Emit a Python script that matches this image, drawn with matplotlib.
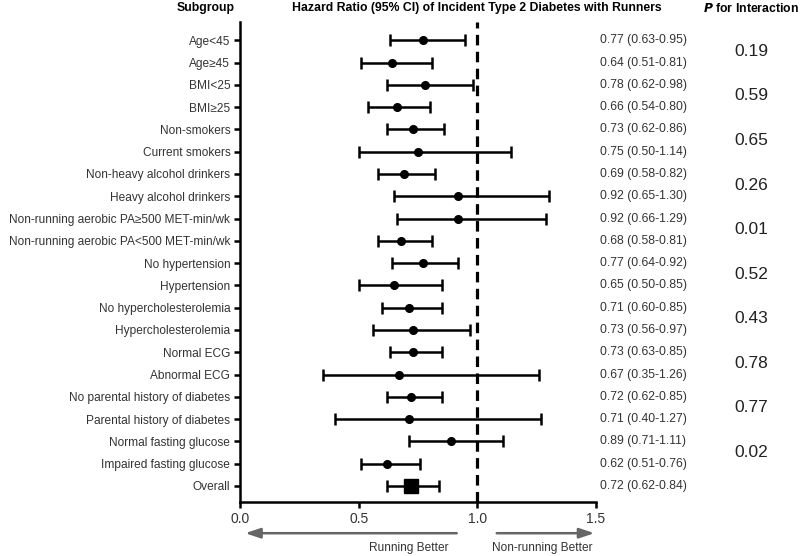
import numpy as np
import matplotlib.pyplot as plt

plt.rcParams['font.family'] = ['Liberation Sans', 'DejaVu Sans']

subgroups = ['Age<45', 'Age≥45', 'BMI<25', 'BMI≥25', 'Non-smokers', 'Current smokers',
             'Non-heavy alcohol drinkers', 'Heavy alcohol drinkers',
             'Non-running aerobic PA≥500 MET-min/wk', 'Non-running aerobic PA<500 MET-min/wk',
             'No hypertension', 'Hypertension', 'No hypercholesterolemia', 'Hypercholesterolemia',
             'Normal ECG', 'Abnormal ECG', 'No parental history of diabetes',
             'Parental history of diabetes', 'Normal fasting glucose', 'Impaired fasting glucose',
             'Overall']
hr = [0.77, 0.64, 0.78, 0.66, 0.73, 0.75, 0.69, 0.92, 0.92, 0.68, 0.77, 0.65, 0.71, 0.73,
      0.73, 0.67, 0.72, 0.71, 0.89, 0.62, 0.72]
lo = [0.63, 0.51, 0.62, 0.54, 0.62, 0.50, 0.58, 0.65, 0.66, 0.58, 0.64, 0.50, 0.60, 0.56,
      0.63, 0.35, 0.62, 0.40, 0.71, 0.51, 0.62]
hi = [0.95, 0.81, 0.98, 0.80, 0.86, 1.14, 0.82, 1.30, 1.29, 0.81, 0.92, 0.85, 0.85, 0.97,
      0.85, 1.26, 0.85, 1.27, 1.11, 0.76, 0.84]
p_interaction = ['0.19', '0.59', '0.65', '0.26', '0.01', '0.52', '0.43', '0.78', '0.77', '0.02']

hr = np.array(hr)
lo = np.array(lo)
hi = np.array(hi)
y = np.arange(len(subgroups))

fig = plt.figure(figsize=(8, 5.56), dpi=100)
ax = fig.add_axes([0.3, 0.0971, 0.445, 0.863])

ax.axvline(1.0, color='black', lw=2.3, ls=(0, (3.3, 2.0)), zorder=1)

n = len(subgroups) - 1
ax.errorbar(hr[:n], y[:n], xerr=[hr[:n] - lo[:n], hi[:n] - hr[:n]], fmt='o', color='black',
            ms=5.5, elinewidth=1.8, capsize=4, capthick=1.8, zorder=3)
ax.errorbar(hr[n:], y[n:], xerr=[hr[n:] - lo[n:], hi[n:] - hr[n:]], fmt='s', color='black',
            ms=10, elinewidth=1.8, capsize=4, capthick=1.8, zorder=3)

ax.set_xlim(0, 1.5)
ax.set_ylim(20.72, -0.81)
ax.set_xticks([0, 0.5, 1.0, 1.5])
ax.set_xticklabels(['0.0', '0.5', '1.0', '1.5'], fontsize=10, color='#333333')
ax.set_yticks(y)
ax.set_yticklabels(subgroups, fontsize=8.6, color='#333333')
ax.tick_params(axis='both', width=1.8, length=4, pad=3)
for side in ['top', 'right']:
    ax.spines[side].set_visible(False)
for side in ['left', 'bottom']:
    ax.spines[side].set_linewidth(1.8)

# HR (95% CI) column
for i in range(len(subgroups)):
    ax.text(1.517, y[i], f'{hr[i]:.2f} ({lo[i]:.2f}-{hi[i]:.2f})', fontsize=8.7,
            color='#333333', va='center', ha='left', clip_on=False)

# P for interaction
for k, p in enumerate(p_interaction):
    ax.text(2.153, 2 * k + 0.5, p, fontsize=12.5, color='#222222', va='center', ha='center',
            clip_on=False)

# headers
fig.text(206 / 800, 1 - 8 / 556, 'Subgroup', fontsize=8.8, fontweight='bold', ha='center', va='center')
fig.text(477 / 800, 1 - 8 / 556, 'Hazard Ratio (95% CI) of Incident Type 2 Diabetes with Runners',
         fontsize=8.8, fontweight='bold', ha='center', va='center')
fig.text(751 / 800, 1 - 8 / 556, r'$\bfit{P}$' + ' for Interaction', fontsize=8.8,
         fontweight='bold', ha='center', va='center')

# direction arrows
ax.annotate('', xy=(0.01, -0.065), xytext=(0.925, -0.065), xycoords=('data', 'axes fraction'),
            arrowprops=dict(arrowstyle='-|>,head_length=0.9,head_width=0.3', color='#666666', lw=1.8))
ax.annotate('', xy=(1.505, -0.065), xytext=(1.07, -0.065), xycoords=('data', 'axes fraction'),
            arrowprops=dict(arrowstyle='-|>,head_length=0.9,head_width=0.3', color='#666666', lw=1.8))
fig.text(409 / 800, 1 - 548 / 556, 'Running Better', fontsize=8.6, color='#333333', ha='center', va='center')
fig.text(542 / 800, 1 - 548 / 556, 'Non-running Better', fontsize=8.6, color='#333333', ha='center', va='center')

fig.savefig('out.png', dpi=100)
